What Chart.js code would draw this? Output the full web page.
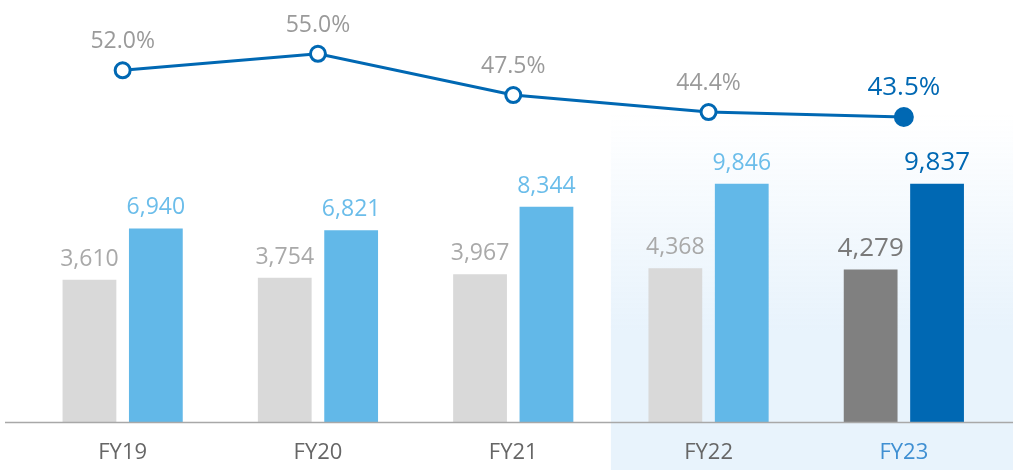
<!DOCTYPE html>
<html>
<head>
<meta charset="utf-8">
<script src="https://cdn.jsdelivr.net/npm/chart.js@4.4.0/dist/chart.umd.min.js"></script>
<style>
  html, body { margin: 0; padding: 0; background: #fff; }
  #wrap { width: 1013px; height: 470px; }
</style>
</head>
<body>
<div id="wrap"><canvas id="chart"></canvas></div>
<script>
const categories = ['FY19', 'FY20', 'FY21', 'FY22', 'FY23'];
const grayValues = [3610, 3754, 3967, 4368, 4279];
const blueValues = [6940, 6821, 8344, 9846, 9837];
const ratioValues = [52.0, 55.0, 47.5, 44.4, 43.5];

const COLORS = {
  gray: '#d9d9d9',
  grayDark: '#808080',
  blue: '#62b8e8',
  blueDark: '#0068b3',
  grayText: '#a9a9a9',
  grayTextDark: '#7a7a7a',
  ratioText: '#9a9a9a',
  blueText: '#6bbdea',
  axis: '#a8a8a8',
  highlight: '#e8f3fc'
};
const FONT = '"Open Sans", "Noto Sans", sans-serif';
const last = categories.length - 1;
const BASE = -5600;

// labels above bars and line points
const valueLabels = {
  id: 'valueLabels',
  afterDatasetsDraw(chart) {
    const ctx = chart.ctx;
    ctx.save();
    ctx.textAlign = 'center';
    ctx.textBaseline = 'alphabetic';
    chart.data.datasets.forEach((ds, i) => {
      const meta = chart.getDatasetMeta(i);
      meta.data.forEach((el, j) => {
        const big = j === last;
        let text, color, gap;
        if (ds.type === 'line') {
          text = ds.data[j].toFixed(1) + '%';
          color = big ? COLORS.blueDark : COLORS.ratioText;
          gap = 22;
        } else {
          text = ds.data[j].toLocaleString('en-US');
          if (ds.label === 'gray') color = big ? COLORS.grayTextDark : COLORS.grayText;
          else color = big ? COLORS.blueDark : COLORS.blueText;
          gap = 14;
        }
        ctx.font = (big ? '500 26px ' : '23px ') + FONT;
        ctx.fillStyle = color;
        ctx.fillText(text, el.x, el.y - gap);
      });
    });
    ctx.restore();
  }
};

// shaded area behind the last two years + baseline
const backdrop = {
  id: 'backdrop',
  beforeDraw(chart) {
    const ctx = chart.ctx;
    const x = chart.scales.x;
    const left = (x.getPixelForValue(2) + x.getPixelForValue(3)) / 2;
    const g = ctx.createLinearGradient(0, 115, 0, 330);
    g.addColorStop(0, 'rgba(232,243,252,0)');
    g.addColorStop(1, COLORS.highlight);
    ctx.save();
    ctx.fillStyle = g;
    ctx.fillRect(left, 115, chart.width - left, chart.height - 115);
    ctx.restore();
  },
  afterDatasetsDraw(chart) {
    const ctx = chart.ctx;
    const yb = chart.scales.y.getPixelForValue(BASE);
    ctx.save();
    ctx.strokeStyle = COLORS.axis;
    ctx.lineWidth = 1.5;
    ctx.beginPath();
    ctx.moveTo(5, yb + 0.5);
    ctx.lineTo(chart.width, yb + 0.5);
    ctx.stroke();
    ctx.restore();
  }
};

const ctx = document.getElementById('chart');
new Chart(ctx, {
  type: 'bar',
  data: {
    labels: categories,
    datasets: [
      {
        type: 'line',
        label: 'ratio',
        data: ratioValues,
        yAxisID: 'y2',
        borderColor: COLORS.blueDark,
        borderWidth: 3,
        pointRadius: categories.map((c, i) => i === last ? 8.5 : 7.5),
        pointBorderWidth: 3,
        pointBackgroundColor: categories.map((c, i) => i === last ? COLORS.blueDark : '#ffffff'),
        pointBorderColor: COLORS.blueDark,
        tension: 0,
        clip: false
      },
      {
        label: 'gray',
        data: grayValues,
        base: BASE,
        backgroundColor: categories.map((c, i) => i === last ? COLORS.grayDark : COLORS.gray),
        categoryPercentage: 0.68,
        barPercentage: 0.81
      },
      {
        label: 'blue',
        data: blueValues,
        base: BASE,
        backgroundColor: categories.map((c, i) => i === last ? COLORS.blueDark : COLORS.blue),
        categoryPercentage: 0.68,
        barPercentage: 0.81
      }
    ]
  },
  options: {
    responsive: true,
    maintainAspectRatio: false,
    animation: false,
    layout: { padding: { left: 25, right: 8, top: 0, bottom: 0 } },
    plugins: {
      legend: { display: false },
      tooltip: { enabled: false }
    },
    scales: {
      x: {
        afterFit: (scale) => { scale.height = 48; },
        grid: { display: false },
        border: { display: false },
        ticks: {
          padding: 10,
          font: { family: FONT, size: 22 },
          color: (c) => c.index === last ? '#3f8fd2' : '#666666'
        }
      },
      y: {
        display: false,
        min: BASE,
        max: 21000
      },
      y2: {
        display: false,
        min: -12,
        max: 62.7
      }
    }
  },
  plugins: [backdrop, valueLabels]
});
</script>
</body>
</html>
